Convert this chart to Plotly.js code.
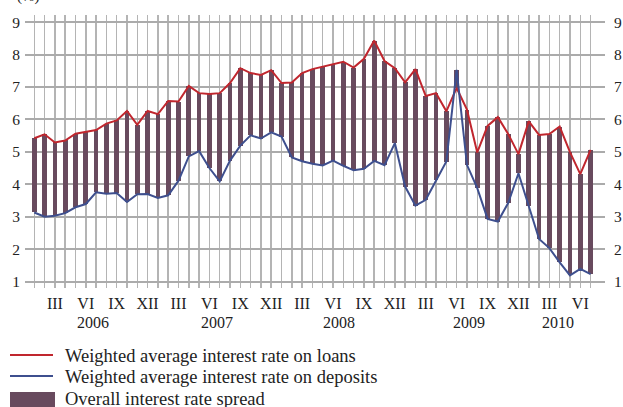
<!DOCTYPE html>
<html>
<head>
<meta charset="utf-8">
<script src="https://cdn.plot.ly/plotly-3.0.1.min.js"></script>
<style>html,body{margin:0;padding:0;background:#fff;}#chart{width:623px;height:407px;}</style>
</head>
<body>
<div id="chart"></div>
<script>
// Monthly data, Jan 2006 .. Jul 2010
const loans = [5.42,5.54,5.29,5.35,5.56,5.62,5.67,5.87,5.97,6.26,5.83,6.26,
  6.16,6.57,6.55,7.03,6.81,6.78,6.81,7.12,7.58,7.43,7.37,7.52,
  7.12,7.14,7.43,7.55,7.63,7.71,7.78,7.60,7.87,8.43,7.80,7.58,
  7.14,7.55,6.72,6.81,6.25,6.97,6.30,4.98,5.80,6.07,5.55,4.93,
  5.94,5.52,5.55,5.78,4.99,4.31,5.06];
const deposits = [3.13,3.00,3.03,3.11,3.29,3.39,3.75,3.71,3.73,3.45,3.69,3.70,
  3.58,3.66,4.11,4.86,5.02,4.50,4.09,4.73,5.19,5.51,5.41,5.60,
  5.47,4.83,4.71,4.63,4.58,4.73,4.57,4.43,4.48,4.72,4.59,5.27,
  3.93,3.34,3.52,4.12,4.70,7.53,4.60,3.88,2.93,2.85,3.42,4.34,
  3.32,2.31,2.03,1.59,1.19,1.39,1.23];
const monthPattern = ["","","III","","","VI","","","IX","","","XII"];
const years = ["2006","2007","2008","2009","2010"];
const yearCenters = [5.7, 17.7, 29.6, 42.2, 50.8];
const seriesNames = ["Weighted average interest rate on loans",
  "Weighted average interest rate on deposits",
  "Overall interest rate spread"];
const yTicks = [1,2,3,4,5,6,7,8,9];

const n = loans.length;
const xIdx = loans.map((_, i) => i);
const tickText = xIdx.map(i => monthPattern[i % 12]);
const spreadBase = xIdx.map(i => Math.min(loans[i], deposits[i]));
const spreadHeight = xIdx.map(i => Math.abs(loans[i] - deposits[i]));

const W = 623, H = 407;
const M = {l:25, r:18, t:15, b:119};
const pw = W - M.l - M.r, ph = H - M.t - M.b;
const px2x = p => (p - M.l) / pw;
const py2y = p => (H - M.b - p) / ph;

const RED = '#c0262e', BLUE = '#3e4f8e', BAR = '#684a5e';
const FONT = 'Liberation Serif, Times New Roman, serif';

const traces = [
  {type:'bar', x:xIdx, y:spreadHeight, base:spreadBase, width:0.46,
   marker:{color:BAR, line:{width:0}}, hoverinfo:'skip', showlegend:false},
  {type:'scatter', mode:'lines', x:xIdx, y:loans, line:{color:RED, width:2},
   hoverinfo:'skip', showlegend:false},
  {type:'scatter', mode:'lines', x:xIdx, y:deposits, line:{color:BLUE, width:2},
   hoverinfo:'skip', showlegend:false},
  {type:'scatter', mode:'lines', x:xIdx, y:loans, yaxis:'y2', opacity:0,
   hoverinfo:'skip', showlegend:false}
];

const annotations = years.map((t, k) => ({
  text:t, x:yearCenters[k], xref:'x', y:py2y(322.5), yref:'paper',
  showarrow:false, font:{family:FONT, size:16, color:'#222'}, xanchor:'center', yanchor:'middle'
}));
annotations.push({text:'(%)', x:px2x(28), xref:'paper', y:py2y(7), yref:'paper',
  showarrow:false, xanchor:'center', yanchor:'bottom', font:{family:FONT, size:15, color:'#222'}});
const legRows = [356, 377, 399];
seriesNames.forEach((s, k) => annotations.push({
  text:s, x:px2x(63), xref:'paper', y:py2y(legRows[k]), yref:'paper',
  showarrow:false, xanchor:'left', yanchor:'middle', font:{family:FONT, size:18.5, color:'#222'}
}));

const shapes = [
  {type:'line', xref:'paper', yref:'paper', x0:px2x(10), x1:px2x(53), y0:py2y(355), y1:py2y(355), line:{color:RED, width:2}},
  {type:'line', xref:'paper', yref:'paper', x0:px2x(10), x1:px2x(53), y0:py2y(376), y1:py2y(376), line:{color:BLUE, width:2}},
  {type:'rect', xref:'paper', yref:'paper', x0:px2x(10), x1:px2x(55), y0:py2y(392), y1:py2y(410), fillcolor:BAR, line:{width:0}}
];

const layout = {
  width:W, height:H, margin:M, paper_bgcolor:'#fff', plot_bgcolor:'#fff',
  showlegend:false, bargap:0,
  font:{family:FONT, size:15, color:'#222'},
  xaxis:{range:[-0.9, 55.4], tickvals:xIdx, ticktext:tickText, showgrid:true,
    gridcolor:'#b4b4b4', gridwidth:1.5, zeroline:false, showline:false, ticks:'',
    ticklabelstandoff:4,
    tickfont:{family:FONT, size:16, color:'#222'}, fixedrange:true},
  yaxis:{range:[0.8, 9.22], tickvals:yTicks, showgrid:true, gridcolor:'#ababab', gridwidth:2,
    zeroline:false, showline:false, ticks:'', ticklabelstandoff:4,
    tickfont:{family:FONT, size:15.5, color:'#222'}, layer:'above traces'},
  yaxis2:{range:[0.8, 9.22], tickvals:yTicks, overlaying:'y', side:'right', showgrid:false,
    zeroline:false, showline:false, ticks:'', ticklabelstandoff:8,
    tickfont:{family:FONT, size:15.5, color:'#222'}},
  annotations:annotations, shapes:shapes
};
Plotly.newPlot('chart', traces, layout, {staticPlot:true});
</script>
</body>
</html>
